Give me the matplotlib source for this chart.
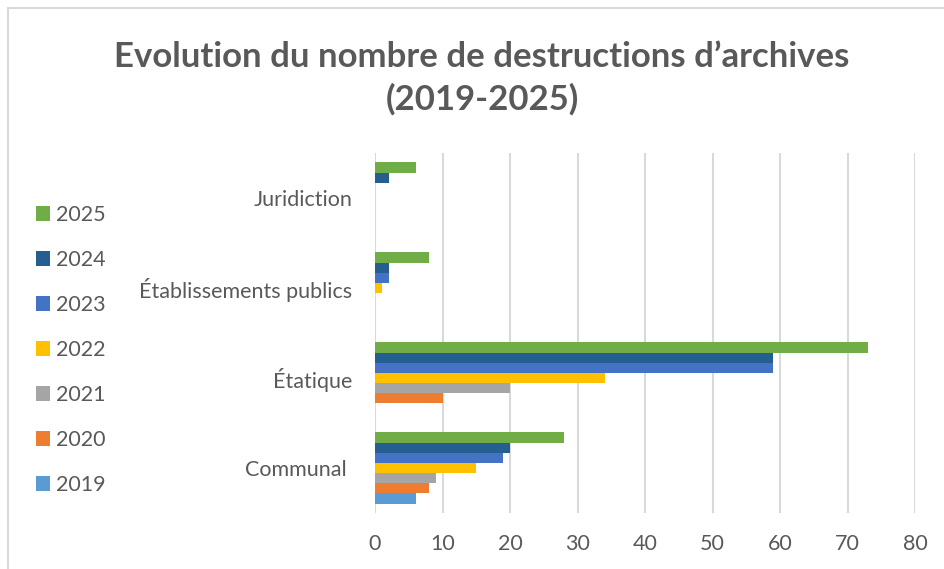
import matplotlib.pyplot as plt
from matplotlib.lines import Line2D
import numpy as np

plt.rcParams.update({"font.family": ["Lato", "DejaVu Sans"], "font.size": 15.5})

categories = ["Communal ", "Étatique", "Établissements publics", "Juridiction"]
years = ["2019", "2020", "2021", "2022", "2023", "2024", "2025"]
# valeurs par annee, dans l'ordre des categories
v2019 = [6, 0, 0, 0]
v2020 = [8, 10, 0, 0]
v2021 = [9, 20, 0, 0]
v2022 = [15, 34, 1, 0]
v2023 = [19, 59, 2, 0]
v2024 = [20, 59, 2, 2]
v2025 = [28, 73, 8, 6]
series = [v2019, v2020, v2021, v2022, v2023, v2024, v2025]
colors = ["#5B9BD5", "#ED7D31", "#A5A5A5", "#FFC000", "#4472C4", "#255E91", "#70AD47"]

grey = "#595959"
W, H = 944, 569
fig = plt.figure(figsize=(W/100, H/100), dpi=100)
ax = fig.add_axes([375/W, 1-513/H, (915-375)/W, (513-153)/H])

y = np.arange(len(categories))
h = 0.113
for i in range(len(years)):
    ax.barh(y + (i-3)*h, series[i], height=h, color=colors[i], label=years[i], zorder=3)

ax.set_xlim(0, 80)
ax.set_ylim(-0.5, 3.5)
ax.set_xticks(range(0, 81, 10))
ax.set_yticks(y)
ax.set_yticklabels(categories)
ax.tick_params(axis='both', length=0, colors=grey, labelsize=15.5)
ax.tick_params(axis='x', pad=15)
ax.tick_params(axis='y', pad=16.5)
ax.grid(axis='x', color='#d9d9d9', linewidth=1.5, zorder=0)
for s in ax.spines.values():
    s.set_visible(False)

handles, labels = ax.get_legend_handles_labels()
fig.legend(handles[::-1], labels[::-1], loc='center left', bbox_to_anchor=(36/W, 1-350/H),
           frameon=False, borderpad=0, borderaxespad=0, handlelength=0.65, handleheight=0.65,
           handletextpad=0.28, labelspacing=1.16, fontsize=15.5, labelcolor=grey)

fig.text(482/W, 1-78/H, "Evolution du nombre de destructions d’archives\n(2019-2025)",
         ha='center', va='center', fontsize=25, fontweight='bold', color=grey, linespacing=1.36)

# cadre du graphique
fig.add_artist(Line2D([8/W, 8/W], [0, 1-8/H], color='#d9d9d9', lw=1.5))
fig.add_artist(Line2D([8/W, 1], [1-8/H, 1-8/H], color='#d9d9d9', lw=1.5))

fig.savefig("out.png", dpi=100)
